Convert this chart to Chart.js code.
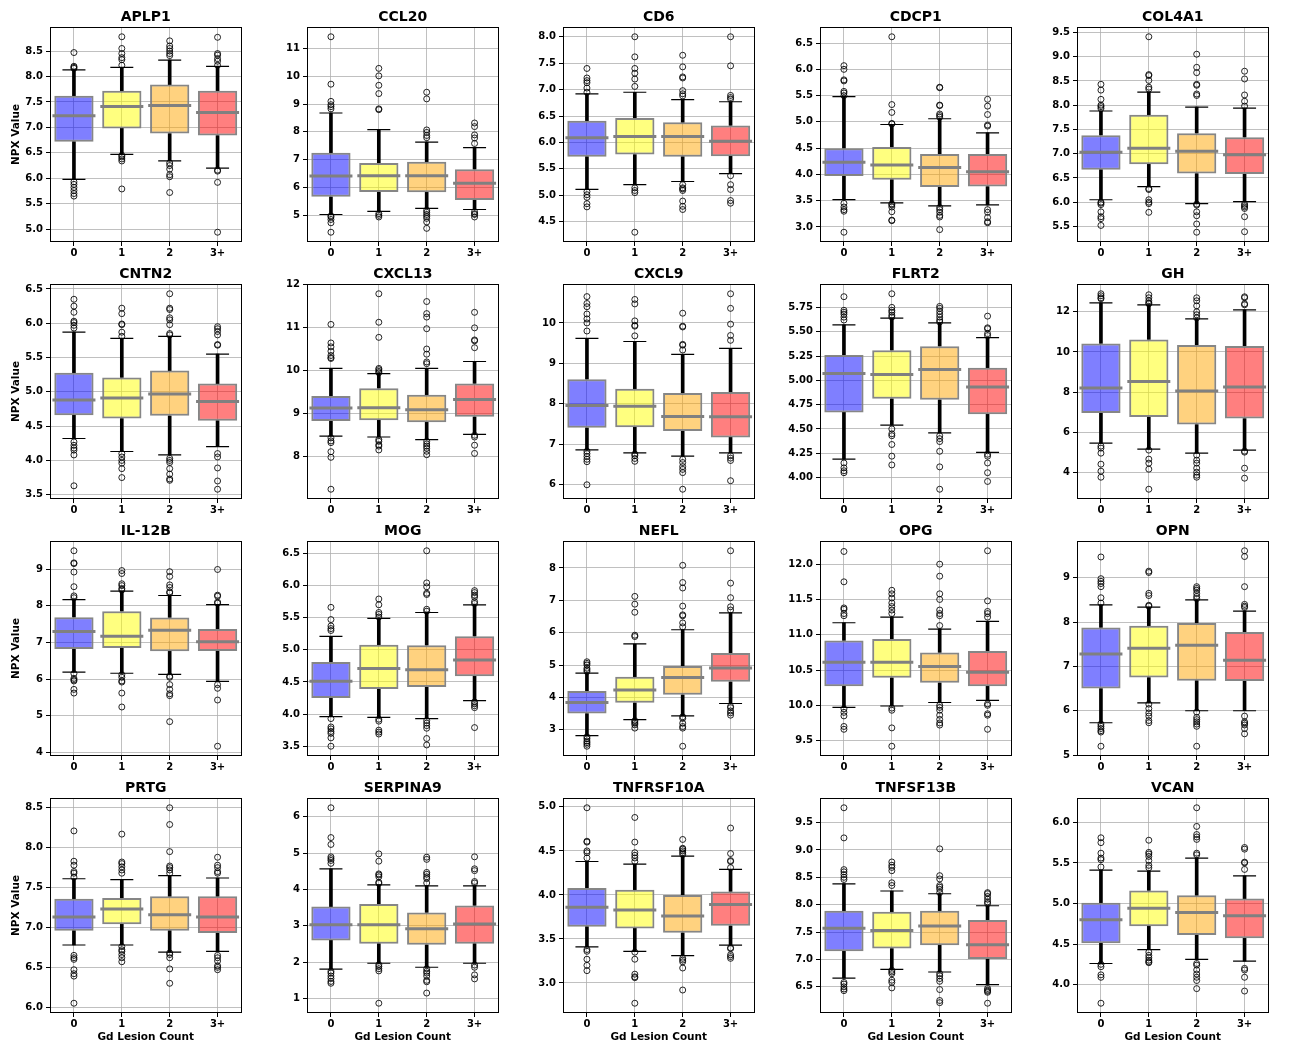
<!DOCTYPE html>
<html><head><meta charset="utf-8">
<script src="https://cdn.jsdelivr.net/npm/chart.js@4.4.1/dist/chart.umd.min.js"></script>
<style>
html,body{margin:0;padding:0;background:#fff;width:1293px;height:1045px;overflow:hidden;position:relative}
canvas{position:absolute}
</style></head><body>
<script>
const proteins = ['APLP1','CCL20','CD6','CDCP1','COL4A1','CNTN2','CXCL13','CXCL9','FLRT2','GH','IL-12B','MOG','NEFL','OPG','OPN','PRTG','SERPINA9','TNFRSF10A','TNFSF13B','VCAN'];
const groups = ['0','1','2','3+'];
const yTickStep = [0.5,1,0.5,0.5,0.5, 0.5,1,1,0.25,2, 1,0.5,1,0.5,1, 0.5,1,0.5,0.5,0.5];

const whiskerLow = [
 [5.98,6.47,6.34,6.20],[5.02,5.13,5.24,5.20],[5.11,5.20,5.26,5.41],[3.52,3.46,3.40,3.42],[6.05,6.32,5.97,6.01],
 [4.32,4.13,4.08,4.20],[8.48,8.46,8.40,8.52],[6.86,6.79,6.71,6.79],[4.19,4.54,4.46,4.26],[5.45,5.15,4.95,5.10],
 [6.19,6.16,6.13,5.94],[3.96,3.95,3.93,4.21],[2.82,3.31,3.43,3.81],[9.97,9.99,10.04,10.07],[5.73,6.18,6.00,6.00],
 [6.78,6.78,6.69,6.70],[1.81,1.97,1.86,1.97],[3.41,3.36,3.31,3.43],[6.66,6.82,6.77,6.54],[4.26,4.43,4.31,4.29]
];
const q1 = [
 [6.72,6.98,6.88,6.84],[5.66,5.83,5.82,5.54],[5.73,5.77,5.73,5.74],[3.97,3.90,3.76,3.77],[6.67,6.78,6.59,6.58],
 [4.66,4.61,4.65,4.58],[8.83,8.85,8.80,8.93],[7.41,7.42,7.33,7.17],[4.67,4.81,4.80,4.65],[6.95,6.75,6.38,6.68],
 [6.82,6.85,6.76,6.77],[4.25,4.39,4.42,4.59],[3.50,3.83,4.08,4.48],[10.27,10.39,10.32,10.27],[6.50,6.75,6.68,6.67],
 [6.96,7.04,6.96,6.93],[2.60,2.51,2.48,2.51],[3.64,3.62,3.57,3.65],[7.15,7.20,7.26,7.01],[4.51,4.72,4.61,4.57]
];
const medians = [
 [7.23,7.41,7.43,7.29],[6.41,6.42,6.42,6.15],[6.09,6.11,6.11,6.02],[4.23,4.18,4.13,4.05],[7.03,7.11,7.05,6.98],
 [4.88,4.91,4.97,4.86],[9.13,9.14,9.09,9.33],[7.96,7.94,7.69,7.68],[5.07,5.06,5.11,4.93],[8.20,8.53,8.05,8.25],
 [7.30,7.17,7.33,7.02],[4.51,4.71,4.69,4.84],[3.84,4.23,4.61,4.91],[10.61,10.61,10.55,10.47],[7.28,7.41,7.48,7.14],
 [7.13,7.23,7.16,7.13],[3.03,3.03,2.92,3.05],[3.86,3.83,3.76,3.89],[7.57,7.53,7.61,7.27],[4.80,4.94,4.89,4.85]
];
const q3 = [
 [7.62,7.72,7.84,7.72],[7.25,6.88,6.92,6.65],[6.41,6.46,6.38,6.32],[4.50,4.52,4.39,4.39],[7.38,7.80,7.42,7.34],
 [5.28,5.21,5.31,5.12],[9.41,9.59,9.44,9.70],[8.61,8.37,8.27,8.29],[5.26,5.31,5.35,5.13],[10.42,10.62,10.35,10.30],
 [7.69,7.85,7.68,7.37],[4.81,5.08,5.07,5.21],[4.20,4.64,4.97,5.37],[10.92,10.94,10.75,10.77],[7.88,7.92,7.98,7.78],
 [7.36,7.37,7.39,7.39],[3.53,3.60,3.37,3.56],[4.08,4.06,4.00,4.04],[7.89,7.87,7.89,7.72],[5.01,5.16,5.10,5.06]
];
const whiskerHigh = [
 [8.13,8.18,8.32,8.20],[8.68,8.08,7.63,7.43],[6.92,6.95,6.81,6.77],[5.48,4.95,5.06,4.79],[7.88,8.27,7.96,7.94],
 [5.87,5.78,5.81,5.55],[10.05,9.93,10.05,10.21],[9.62,9.54,9.22,9.37],[5.57,5.64,5.59,5.44],[12.45,12.35,11.65,12.10],
 [8.17,8.40,8.28,8.03],[5.21,5.49,5.58,5.70],[4.75,5.65,6.09,6.61],[11.17,11.25,11.08,11.19],[8.39,8.34,8.50,8.25],
 [7.61,7.60,7.65,7.62],[4.57,4.13,4.10,4.10],[4.38,4.35,4.44,4.29],[8.38,8.25,8.20,7.98],[5.41,5.40,5.56,5.34]
];
const outliers = [
 [[8.47,8.20,8.18,8.16,5.93,5.88,5.82,5.76,5.70,5.65],[8.78,8.55,8.45,8.37,8.33,8.22,6.45,6.42,6.38,6.34,5.79],[8.70,8.60,8.55,8.50,8.45,8.41,6.30,6.25,6.18,6.07,6.03,5.72],[8.77,8.45,8.42,8.35,8.30,8.22,6.16,6.14,5.92,4.94]],
 [[11.43,9.72,9.10,8.98,8.91,8.83,4.97,4.93,4.84,4.72,4.38],[10.29,10.02,9.68,9.38,8.83,8.80,5.05,4.99,4.93],[9.43,9.19,8.07,7.98,7.87,7.79,5.17,5.10,5.02,4.95,4.88,4.75,4.52],[8.32,8.19,7.89,7.78,7.58,5.12,5.05,5.02,4.93]],
 [[7.40,7.22,7.17,7.13,7.03,6.95,5.07,5.01,4.96,4.84,4.78],[8.00,7.62,7.40,7.31,7.20,7.06,5.14,5.09,5.05,4.30],[7.65,7.43,7.24,7.22,6.98,6.92,6.88,5.20,5.14,5.12,5.09,4.89,4.79,4.73],[8.00,7.45,6.89,6.85,6.82,5.37,5.20,5.11,4.90,4.85]],
 [[6.07,6.00,5.80,5.78,5.58,5.55,5.50,3.45,3.38,3.33,3.30,2.90],[6.62,5.33,5.18,4.97,4.96,3.44,3.42,3.38,3.29,3.13,3.12],[5.66,5.65,5.32,5.31,5.15,5.12,5.09,3.37,3.33,3.28,3.22,3.19,2.95],[5.43,5.30,5.14,4.94,4.92,3.33,3.28,3.18,3.10,3.08]],
 [[8.43,8.31,8.12,8.00,7.97,7.93,6.00,5.98,5.95,5.80,5.70,5.66,5.52],[9.41,8.63,8.61,8.51,8.37,8.33,6.28,6.26,6.05,6.00,5.97,5.79],[9.05,8.78,8.67,8.43,8.41,8.23,8.20,5.96,5.94,5.80,5.72,5.55,5.38],[8.70,8.54,8.21,8.08,7.98,5.96,5.93,5.90,5.87,5.70,5.39]],
 [[6.35,6.25,6.16,6.03,6.01,5.97,5.93,4.27,4.22,4.18,4.15,4.08,3.63],[6.22,6.14,5.99,5.98,5.87,5.81,4.10,4.05,4.00,3.96,3.88,3.75],[6.43,6.22,6.20,6.08,6.05,5.98,5.85,5.83,4.03,4.00,3.97,3.88,3.80,3.73,3.71],[5.95,5.92,5.88,5.83,5.69,5.68,4.10,4.05,3.89,3.70,3.58]],
 [[11.07,10.64,10.55,10.45,10.35,10.30,10.28,8.44,8.37,8.33,8.12,7.99,7.25],[11.78,11.12,10.77,10.05,10.02,9.98,9.95,8.40,8.36,8.28,8.25,8.16],[11.60,11.32,11.24,10.97,10.50,10.38,10.20,10.16,8.36,8.30,8.25,8.20,8.13,8.05],[11.35,10.99,10.71,10.69,10.53,8.50,8.46,8.27,8.08]],
 [[10.65,10.48,10.40,10.22,10.10,10.00,9.80,6.83,6.77,6.70,6.63,6.57,6.00],[10.58,10.47,10.05,9.94,9.92,9.68,6.76,6.72,6.65,6.58],[10.24,9.92,9.90,9.47,9.45,9.33,6.63,6.55,6.45,6.38,6.30,5.89],[10.72,10.36,9.97,9.69,9.57,6.72,6.66,6.60,6.10]],
 [[5.86,5.72,5.70,5.68,5.65,5.62,4.15,4.10,4.07,4.05],[5.89,5.75,5.72,5.70,5.67,5.65,4.50,4.45,4.43,4.34,4.22,4.13],[5.76,5.74,5.71,5.68,5.65,5.62,5.60,4.43,4.40,4.37,4.27,4.11,3.88],[5.66,5.54,5.53,5.48,5.46,4.24,4.22,4.15,4.05,3.96]],
 [[12.90,12.80,12.70,12.65,5.30,5.20,4.95,4.40,4.05,3.75],[12.85,12.70,12.55,12.45,12.40,5.10,4.65,4.45,4.15,3.15],[12.70,12.55,12.30,12.00,11.85,11.70,4.85,4.60,4.45,4.20,4.00,3.85,3.75],[12.75,12.70,12.40,12.35,5.05,5.00,4.20,3.70]],
 [[9.50,9.17,9.15,8.92,8.52,8.27,8.22,6.15,6.02,5.98,5.95,5.72,5.62],[8.96,8.88,8.60,8.55,8.47,8.43,6.12,6.05,5.95,5.92,5.62,5.24],[8.93,8.80,8.57,8.50,8.38,8.35,6.08,6.05,5.85,5.72,5.60,5.55,4.84],[8.99,8.29,8.26,8.10,8.07,5.85,5.75,5.43,4.17]],
 [[5.66,5.47,5.37,5.33,5.30,3.93,3.80,3.77,3.73,3.70,3.63,3.50],[5.79,5.70,5.58,5.55,5.51,3.92,3.89,3.75,3.72,3.69],[6.54,6.04,5.98,5.88,5.86,5.63,5.60,3.90,3.86,3.82,3.78,3.62,3.52],[5.92,5.89,5.85,5.82,5.75,5.72,4.19,4.16,4.13,4.10,3.79]],
 [[5.10,5.05,5.00,4.90,4.85,4.80,2.78,2.72,2.65,2.60,2.55,2.49],[7.12,6.88,6.63,5.92,5.88,3.28,3.24,3.20,3.15,3.05],[8.08,7.55,7.38,6.82,6.55,6.52,6.30,6.18,3.40,3.35,3.20,3.10,3.05,2.49],[8.53,7.53,7.08,6.80,6.70,3.72,3.68,3.58,3.52,3.45]],
 [[12.18,11.75,11.38,11.36,11.30,11.27,9.95,9.90,9.85,9.70,9.66],[11.63,11.58,11.52,11.45,11.40,11.35,11.30,9.96,9.93,9.68,9.42],[12.00,11.83,11.58,11.50,11.35,11.30,11.27,11.13,10.00,9.97,9.93,9.86,9.80,9.75,9.72],[12.19,11.48,11.33,11.30,11.25,10.02,10.00,9.88,9.86,9.66]],
 [[9.47,8.98,8.92,8.87,8.80,8.55,8.43,5.70,5.65,5.60,5.55,5.52,5.20],[9.15,9.12,8.65,8.60,8.38,8.36,6.15,6.05,5.95,5.88,5.78,5.73],[8.80,8.76,8.72,8.65,8.58,8.53,5.97,5.85,5.80,5.75,5.70,5.65,5.20],[9.61,9.48,8.80,8.40,8.36,8.33,5.88,5.75,5.72,5.68,5.60,5.48]],
 [[8.21,7.83,7.78,7.70,7.68,7.63,6.65,6.62,6.60,6.47,6.42,6.39,6.05],[8.17,7.82,7.80,7.76,7.72,7.68,6.76,6.72,6.70,6.66,6.62,6.57],[8.50,8.29,7.95,7.77,7.75,7.72,7.68,6.68,6.66,6.62,6.48,6.30],[7.88,7.78,7.75,7.70,7.68,6.65,6.62,6.58,6.52,6.50,6.47]],
 [[6.25,5.43,5.24,4.90,4.85,4.80,4.72,1.75,1.70,1.62,1.55,1.47,1.42],[4.98,4.78,4.43,4.40,4.35,4.20,4.17,1.93,1.88,1.82,1.76,0.87],[4.89,4.83,4.47,4.42,4.35,4.30,4.18,1.82,1.75,1.70,1.62,1.50,1.46,1.15],[4.90,4.57,4.52,4.22,4.18,1.92,1.86,1.65,1.54]],
 [[4.99,4.61,4.60,4.50,4.48,4.42,3.38,3.36,3.27,3.20,3.14],[4.88,4.60,4.48,4.45,4.42,4.38,3.35,3.27,3.10,3.07,3.06,2.77],[4.63,4.53,4.52,4.50,4.48,4.46,3.28,3.26,3.24,3.17,2.92],[4.76,4.47,4.39,4.38,4.31,3.40,3.39,3.32,3.30,3.28]],
 [[9.77,9.22,8.64,8.60,8.55,8.50,8.46,6.58,6.55,6.50,6.46,6.43],[8.78,8.72,8.68,8.62,8.40,8.35,6.80,6.77,6.74,6.62,6.58,6.48],[9.02,8.53,8.47,8.35,8.32,8.28,8.22,6.74,6.70,6.65,6.60,6.45,6.25,6.21],[8.22,8.20,8.15,8.10,8.05,8.02,6.47,6.44,6.42,6.40,6.20]],
 [[5.81,5.75,5.62,5.56,5.54,5.45,4.25,4.22,4.12,4.09,3.77],[5.78,5.63,5.61,5.58,5.53,5.47,5.44,4.40,4.36,4.33,4.30,4.28,4.27],[6.18,5.95,5.85,5.82,5.79,5.62,5.60,4.26,4.24,4.18,4.13,4.09,4.05,3.95],[5.69,5.67,5.51,5.50,5.42,4.20,4.18,4.09,3.92]]
];

const boxFill = ['rgba(0,0,255,0.5)','rgba(255,255,0,0.5)','rgba(255,165,0,0.5)','rgba(255,0,0,0.5)'];
const colLeft = [50, 307, 563, 820, 1077];
const rowTop = [27, 284, 541, 798];

Chart.defaults.font.family = 'DejaVu Sans';
Chart.defaults.color = '#000';

const framePlugin = {
  id: 'frame',
  afterDraw(chart) {
    const {ctx, chartArea: a} = chart;
    ctx.save();
    ctx.strokeStyle = '#000';
    ctx.lineWidth = 1;
    ctx.strokeRect(Math.round(a.left) + 0.5, Math.round(a.top) + 0.5, Math.round(a.right - a.left) - 1, Math.round(a.bottom - a.top) - 1);
    ctx.restore();
  }
};

const tickFont = {family: 'DejaVu Sans', weight: 'bold', size: 10};
const axisTitleFont = {family: 'DejaVu Sans', weight: 'bold', size: 10.5};

function makePanel(i) {
  const r = Math.floor(i / 5), c = i % 5;
  const cv = document.createElement('canvas');
  cv.width = 266; cv.height = 282;
  cv.style.left = (colLeft[c] - 50) + 'px';
  cv.style.top = (rowTop[r] - 27) + 'px';
  cv.style.width = '266px'; cv.style.height = '282px';
  document.body.appendChild(cv);

  const idx = groups.map((g, k) => k);
  const all = [].concat(whiskerLow[i], whiskerHigh[i], ...outliers[i]);
  const lo = Math.min(...all), hi = Math.max(...all);
  const pad = (hi - lo) * 0.05;
  const yMin = lo - pad, yMax = hi + pad;
  const step = yTickStep[i];
  const dec = step < 0.5 ? 2 : (step < 1 ? 1 : 0);

  const outPts = [];
  outliers[i].forEach((arr, k) => arr.forEach(v => outPts.push({x: k, y: v})));
  const capPts = [];
  idx.forEach(k => { capPts.push({x: k, y: whiskerLow[i][k]}); capPts.push({x: k, y: whiskerHigh[i][k]}); });

  new Chart(cv, {
    type: 'bar',
    data: {
      datasets: [
        {type: 'scatter', data: outPts, order: 0, pointStyle: 'circle', pointRadius: 3, pointHoverRadius: 3,
          pointBorderWidth: 1, pointBorderColor: 'rgba(0,0,0,0.85)', pointBackgroundColor: 'rgba(0,0,0,0)'},
        {type: 'scatter', data: capPts, order: 1, pointStyle: 'line', pointRadius: 11.5, pointHoverRadius: 11.5,
          pointBorderWidth: 1.2, pointBorderColor: '#000'},
        {type: 'scatter', data: idx.map(k => ({x: k, y: medians[i][k]})), order: 2, pointStyle: 'line',
          pointRadius: 21.5, pointHoverRadius: 21.5, pointBorderWidth: 3, pointBorderColor: '#808080'},
        {type: 'bar', data: idx.map(k => ({x: k, y: [q1[i][k], q3[i][k]]})), order: 3,
          backgroundColor: boxFill, borderColor: 'rgba(128,128,128,0.95)', borderWidth: 2, borderSkipped: false,
          barPercentage: 0.82, categoryPercentage: 1, grouped: false},
        {type: 'bar', data: idx.map(k => ({x: k, y: [whiskerLow[i][k], q1[i][k]]})), order: 4,
          backgroundColor: '#000', borderWidth: 0, barThickness: 3, grouped: false},
        {type: 'bar', data: idx.map(k => ({x: k, y: [q3[i][k], whiskerHigh[i][k]]})), order: 4,
          backgroundColor: '#000', borderWidth: 0, barThickness: 3, grouped: false}
      ]
    },
    options: {
      responsive: false, animation: false, devicePixelRatio: 1,
      events: [],
      layout: {padding: {left: 0, right: 2, top: 0, bottom: 0}},
      plugins: {
        legend: {display: false},
        tooltip: {enabled: false},
        title: {display: true, text: proteins[i], fullSize: false, color: '#000',
          font: {family: 'DejaVu Sans', weight: 'bold', size: 14, lineHeight: 1.2},
          padding: {top: 9.1, bottom: 1.1}}
      },
      scales: {
        x: {
          type: 'linear', min: -0.5, max: 3.5, offset: false,
          afterBuildTicks: s => { s.ticks = idx.map(v => ({value: v})); },
          afterFit: s => { s.height = 40; },
          ticks: {callback: v => groups[v], font: tickFont, color: '#000', padding: 1, autoSkip: false, maxRotation: 0},
          grid: {color: '#b0b0b0', lineWidth: 0.8, offset: false, tickColor: '#000', tickLength: 4, tickWidth: 1},
          border: {display: false},
          title: {display: r === 3, text: 'Gd Lesion Count', font: axisTitleFont, color: '#000', padding: {top: 0, bottom: 9.4}}
        },
        y: {
          type: 'linear', min: yMin, max: yMax,
          afterBuildTicks: s => {
            const t = [];
            for (let k = Math.ceil(yMin / step - 1e-9); k * step <= yMax + 1e-9; k++) t.push({value: k * step});
            s.ticks = t;
          },
          afterFit: s => { s.width = 50; },
          ticks: {callback: v => Number(v).toFixed(dec), font: tickFont, color: '#000', padding: 3},
          grid: {color: '#b0b0b0', lineWidth: 0.8, tickColor: '#000', tickLength: 4, tickWidth: 1},
          border: {display: false},
          title: {display: c === 0, text: 'NPX Value', font: axisTitleFont, color: '#000', padding: {top: 10, bottom: 0}}
        }
      }
    },
    plugins: [framePlugin]
  });
}

for (let i = 0; i < proteins.length; i++) makePanel(i);
</script>
</body></html>
